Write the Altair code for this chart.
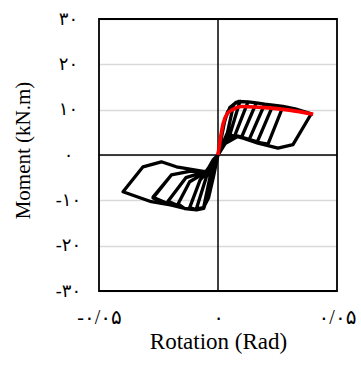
import altair as alt
import pandas as pd

# Hysteresis cycles: rotation (rad) and moment (kN.m)
c1_rot = [0, 0.002, 0.004, 0.0065, 0.004, 0.002, 0, -0.002, -0.004, -0.006, -0.003, -0.001, 0]
c1_mom = [0, 6, 9.5, 11.0, 5.0, 2.5, 0, -5, -9.5, -11.5, -4, -1.5, 0]

c2_rot = [0.003, 0.005, 0.0075, 0.0092, 0.005, 0.002, 0, -0.003, -0.006, -0.0091, -0.005, -0.002, 0]
c2_mom = [8, 10.5, 11.6, 11.8, 4.5, 2, 0, -7, -11.6, -11.9, -5, -1.5, 0]

c3_rot = [0.003, 0.005, 0.0085, 0.0126, 0.007, 0.003, 0, -0.003, -0.006, -0.009, -0.0119, -0.0075, -0.004, 0]
c3_mom = [8, 10.5, 11.8, 11.7, 4.2, 2.5, 0, -7, -11.8, -12.1, -11.6, -5.5, -3.5, 0]

c4_rot = [0.003, 0.005, 0.0085, 0.0126, 0.0161, 0.0098, 0.006, 0.003, 0, -0.003, -0.006, -0.009, -0.014, -0.0168, -0.0119, -0.0045, 0]
c4_mom = [8, 10.5, 11.8, 11.7, 11.5, 3.8, 4.3, 2.5, 0, -7, -11.8, -12.1, -11.8, -10.8, -5.9, -3.6, 0]

c5_rot = [0.003, 0.005, 0.0085, 0.0126, 0.0161, 0.0196, 0.013, 0.008, 0.003, 0, -0.003, -0.006, -0.009, -0.014, -0.021, -0.0135, -0.005, 0]
c5_mom = [8, 10.5, 11.8, 11.7, 11.5, 11.2, 3.3, 4.2, 2.5, 0, -7, -11.8, -12.1, -11.8, -10.2, -5.0, -3.6, 0]

c6_rot = [0.003, 0.005, 0.0085, 0.0126, 0.0161, 0.0196, 0.0231, 0.0165, 0.0084, 0.003, 0, -0.003, -0.006, -0.009, -0.014, -0.02, -0.0273, -0.0196, -0.012, -0.005, 0]
c6_mom = [8, 10.5, 11.8, 11.7, 11.5, 11.2, 11.0, 2.9, 4.2, 2.5, 0, -7, -11.8, -12.1, -11.8, -11.0, -9.5, -4.4, -3.6, -3.6, 0]

c7_rot = [0.003, 0.005, 0.0085, 0.0126, 0.0161, 0.0196, 0.0231, 0.0273, 0.021, 0.0168, 0.0084, 0.003, 0, -0.003, -0.006, -0.009, -0.014, -0.02, -0.0273, -0.0196, -0.012, -0.005, 0]
c7_mom = [8, 10.5, 11.8, 11.7, 11.5, 11.2, 11.0, 10.7, 2.4, 2.8, 4.2, 2.5, 0, -7, -11.8, -12.1, -11.8, -11.0, -9.3, -4.4, -3.6, -3.6, 0]

c8_rot = [0.003, 0.005, 0.0085, 0.0126, 0.0161, 0.0196, 0.0231, 0.0273, 0.0324, 0.0392, 0.0315, 0.0252, 0.0168, 0.0084, 0.003, 0,
          -0.003, -0.006, -0.009, -0.014, -0.02, -0.028, -0.034, -0.0399, -0.0315, -0.0238, -0.0175, -0.0049, -0.0021, 0]
c8_mom = [8, 10.5, 11.8, 11.7, 11.5, 11.2, 11.0, 10.7, 10.2, 9.1, 2.3, 1.5, 2.6, 4.1, 2.5, 0,
          -7, -11.8, -12.1, -11.8, -11.0, -10.3, -9.2, -8.1, -2.6, -1.5, -2.6, -3.7, -1.1, 0]

# Backbone (red) curve
bb_rot = [0, 0.0022, 0.004, 0.0058, 0.01, 0.018, 0.03, 0.04]
bb_mom = [0, 7, 9.2, 9.9, 10.7, 10.5, 9.9, 9.0]

y_ticks = [-30, -20, -10, 0, 10, 20, 30]
y_labels = ["-۳۰", "-۲۰", "-۱۰", "۰", "۱۰", "۲۰", "۳۰"]
x_ticks = [-0.05, 0, 0.05]
x_labels = ["-۰/۰۵", "۰", "۰/۰۵"]

rots = c1_rot + c2_rot + c3_rot + c4_rot + c5_rot + c6_rot + c7_rot + c8_rot
moms = c1_mom + c2_mom + c3_mom + c4_mom + c5_mom + c6_mom + c7_mom + c8_mom
hyst = pd.DataFrame({"rot": rots, "mom": moms, "i": list(range(len(rots)))})
bb = pd.DataFrame({"rot": bb_rot, "mom": bb_mom, "i": list(range(len(bb_rot)))})

LRM = "\u200e"


def label_expr(ticks, labels):
    parts = [f"abs(datum.value - ({t})) < 1e-9 ? '{LRM}{l}'" for t, l in zip(ticks, labels)]
    return " : ".join(parts) + " : ''"


FONT = "Liberation Serif, Times New Roman, DejaVu Serif, DejaVu Sans"

x_scale = alt.Scale(domain=[-0.05, 0.05], nice=False, zero=False)
y_scale = alt.Scale(domain=[-30, 30], nice=False, zero=False)

x_axis = alt.Axis(values=x_ticks, labelExpr=label_expr(x_ticks, x_labels), grid=False, ticks=False,
                  domain=False, labelPadding=16, labelFontSize=20, labelFont=FONT, labelColor="black",
                  labelBaseline="top", labelFlush=False, labelOverlap=False,
                  title="Rotation (Rad)", titleFont=FONT, titleFontSize=23, titleFontWeight="normal",
                  titleColor="black", titleX=119, titleY=50, titleBaseline="middle", titleAlign="center")
y_axis = alt.Axis(values=y_ticks, labelExpr=label_expr(y_ticks, y_labels), grid=True, gridColor="#d9d9d9",
                  gridWidth=1.5, ticks=False, domain=False, labelPadding=31, labelFontSize=18, labelFont=FONT,
                  labelColor="black", labelBaseline="middle", labelAlign="center", labelFlush=False,
                  labelOverlap=False,
                  title="Moment (kN.m)", titleFont=FONT, titleFontSize=21, titleFontWeight="normal",
                  titleColor="black", titleAngle=-90, titleX=-76, titleY=131, titleBaseline="middle",
                  titleAlign="center")

base = alt.Chart(hyst).mark_line(color="black", strokeWidth=3.3, strokeJoin="round").encode(
    x=alt.X("rot:Q", scale=x_scale, axis=x_axis),
    y=alt.Y("mom:Q", scale=y_scale, axis=y_axis),
    order="i:Q",
)

zero_df = pd.DataFrame({"v": [0]})
hzero = alt.Chart(zero_df).mark_rule(color="black", strokeWidth=1.5).encode(y=alt.Y("v:Q", scale=y_scale))
vzero = alt.Chart(zero_df).mark_rule(color="black", strokeWidth=1.5).encode(x=alt.X("v:Q", scale=x_scale))

frame = alt.Chart(zero_df).mark_rect(fill=None, stroke="black", strokeWidth=1.8).encode(
    x=alt.value(0), x2=alt.value(238), y=alt.value(0), y2=alt.value(272)
)

red = alt.Chart(bb).mark_line(color="#ff0000", strokeWidth=3.6, interpolate="monotone").encode(
    x=alt.X("rot:Q", scale=x_scale),
    y=alt.Y("mom:Q", scale=y_scale),
    order="i:Q",
)

chart = alt.layer(hzero, vzero, base, red, frame).properties(
    width=238, height=272,
    background="white",
    autosize=alt.AutoSizeParams(type="none"),
    padding={"left": 99, "top": 19, "right": 24, "bottom": 85},
).configure_view(stroke=None)

chart.save("out.html", embed_options={"renderer": "svg", "actions": False})
